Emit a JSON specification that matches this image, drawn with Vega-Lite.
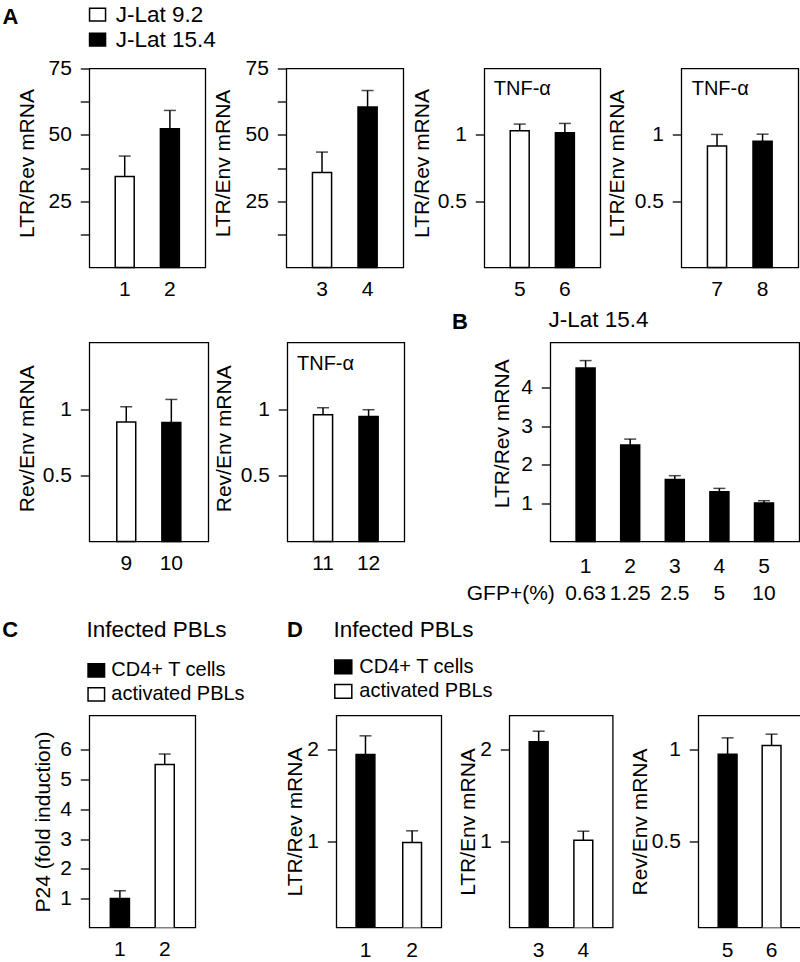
{
  "$schema": "https://vega.github.io/schema/vega-lite/v6.json",
  "padding": {"left": 2.3, "top": 2.5, "right": 0, "bottom": 0},
  "config": {
    "font": "Liberation Sans",
    "view": {"stroke": "black", "strokeWidth": 1.3},
    "title": {"color": "black", "fontWeight": "normal"},
    "legend": {"labelColor": "black"},
    "axisX": {"domain": false, "grid": false, "ticks": false, "tickSize": 0, "labelAngle": 0, "labelFontSize": 21, "labelColor": "black", "labelPadding": 27.6, "labelBaseline": "alphabetic"},
    "axisY": {"domain": false, "grid": false, "ticks": true, "tickSize": 9, "tickWidth": 1.3, "tickColor": "black", "tickCount": 12, "labelFontSize": 21, "labelColor": "black", "labelPadding": 9, "format": "~g", "labelOverlap": false, "titleFontSize": 21, "titleFontWeight": "normal", "titleColor": "black", "titleBaseline": "alphabetic"}
  },
  "spacing": 0,
  "resolve": {"scale": {"fill": "independent"}, "legend": {"fill": "independent"}},
  "vconcat": [
    {
      "bounds": "flush",
      "spacing": 0,
      "resolve": {"scale": {"fill": "independent"}, "legend": {"fill": "independent"}},
      "hconcat": [
        {"width": 87, "height": 199, "data": {"values": []}, "mark": "point", "view": {"stroke": null},
         "title": {"text": "A", "anchor": "start", "frame": "group", "fontSize": 22, "fontWeight": "bold", "baseline": "alphabetic", "dx": 0.2, "offset": 23}},
        {
          "width": 116, "height": 199,
          "data": {"values": [
            {"lane": "1", "group": "J-Lat 9.2", "value": 34.3, "upper": 42.0},
            {"lane": "2", "group": "J-Lat 15.4", "value": 52.3, "upper": 59.2}
          ]},
          "encoding": {"x": {"field": "lane", "type": "nominal", "sort": null, "title": null, "scale": {"paddingInner": 0.58, "paddingOuter": 0.574}}},
          "layer": [
            {"mark": {"type": "bar", "stroke": "black", "strokeWidth": 1.5},
             "encoding": {
               "y": {"field": "value", "type": "quantitative", "scale": {"domain": [0, 75], "nice": false}, "axis": {"title": "LTR/Rev mRNA", "titleX": -56, "titleY": 94.5, "format": "d", "tickCount": 12, "values": [12.5, 25, 37.5, 50, 62.5, 75], "labelOpacity": {"condition": {"test": "datum.value % 25 != 0", "value": 0}, "value": 1}}},
               "fill": {"field": "group", "type": "nominal", "scale": {"domain": ["J-Lat 9.2", "J-Lat 15.4"], "range": ["white", "black"]},
                 "legend": {"orient": "none", "legendX": -3, "legendY": -65.1, "title": null, "padding": 0, "symbolType": "M-1,-0.8H1V0.8H-1Z", "symbolSize": 256, "symbolStrokeColor": "black", "symbolStrokeWidth": 1.5, "labelFontSize": 22.5, "labelOffset": 7, "rowPadding": 2}}
             }},
            {"mark": {"type": "rule", "color": "black", "strokeWidth": 1.5}, "encoding": {"y": {"field": "value", "type": "quantitative"}, "y2": {"field": "upper"}}},
            {"mark": {"type": "tick", "color": "black", "size": 12, "thickness": 1.5}, "encoding": {"y": {"field": "upper", "type": "quantitative"}}}
          ]
        },
        {"width": 81, "height": 199, "data": {"values": []}, "mark": "point", "view": {"stroke": null}},
        {
          "width": 117, "height": 199,
          "data": {"values": [
            {"lane": "3", "group": "J-Lat 9.2", "value": 35.8, "upper": 43.5},
            {"lane": "4", "group": "J-Lat 15.4", "value": 60.5, "upper": 66.7}
          ]},
          "encoding": {"x": {"field": "lane", "type": "nominal", "sort": null, "title": null, "scale": {"paddingInner": 0.58, "paddingOuter": 0.574}}},
          "layer": [
            {"mark": {"type": "bar", "stroke": "black", "strokeWidth": 1.5},
             "encoding": {
               "y": {"field": "value", "type": "quantitative", "scale": {"domain": [0, 75], "nice": false}, "axis": {"title": "LTR/Env mRNA", "titleX": -56.5, "titleY": 94.5, "format": "d", "tickCount": 12, "values": [12.5, 25, 37.5, 50, 62.5, 75], "labelOpacity": {"condition": {"test": "datum.value % 25 != 0", "value": 0}, "value": 1}}},
               "fill": {"field": "group", "type": "nominal", "scale": {"domain": ["J-Lat 9.2", "J-Lat 15.4"], "range": ["white", "black"]}, "legend": null}
             }},
            {"mark": {"type": "rule", "color": "black", "strokeWidth": 1.5}, "encoding": {"y": {"field": "value", "type": "quantitative"}, "y2": {"field": "upper"}}},
            {"mark": {"type": "tick", "color": "black", "size": 12, "thickness": 1.5}, "encoding": {"y": {"field": "upper", "type": "quantitative"}}}
          ]
        },
        {"width": 81, "height": 199, "data": {"values": []}, "mark": "point", "view": {"stroke": null}},
        {
          "width": 116, "height": 199,
          "title": {"text": "TNF-α", "anchor": "start", "frame": "group", "fontSize": 20, "baseline": "alphabetic", "dx": 9.5, "offset": -46.7},
          "data": {"values": [
            {"lane": "5", "group": "J-Lat 9.2", "value": 1.031, "upper": 1.081},
            {"lane": "6", "group": "J-Lat 15.4", "value": 1.016, "upper": 1.086}
          ]},
          "encoding": {"x": {"field": "lane", "type": "nominal", "sort": null, "title": null, "scale": {"paddingInner": 0.58, "paddingOuter": 0.574}}},
          "layer": [
            {"mark": {"type": "bar", "stroke": "black", "strokeWidth": 1.5},
             "encoding": {
               "y": {"field": "value", "type": "quantitative", "scale": {"domain": [0, 1.5], "nice": false}, "axis": {"title": "LTR/Rev mRNA", "titleX": -55.8, "titleY": 94.5, "values": [0.5, 1]}},
               "fill": {"field": "group", "type": "nominal", "scale": {"domain": ["J-Lat 9.2", "J-Lat 15.4"], "range": ["white", "black"]}, "legend": null}
             }},
            {"mark": {"type": "rule", "color": "black", "strokeWidth": 1.5}, "encoding": {"y": {"field": "value", "type": "quantitative"}, "y2": {"field": "upper"}}},
            {"mark": {"type": "tick", "color": "black", "size": 12, "thickness": 1.5}, "encoding": {"y": {"field": "upper", "type": "quantitative"}}}
          ]
        },
        {"width": 81, "height": 199, "data": {"values": []}, "mark": "point", "view": {"stroke": null}},
        {
          "width": 117, "height": 199,
          "title": {"text": "TNF-α", "anchor": "start", "frame": "group", "fontSize": 20, "baseline": "alphabetic", "dx": 10.4, "offset": -46.7},
          "data": {"values": [
            {"lane": "7", "group": "J-Lat 9.2", "value": 0.915, "upper": 1.003},
            {"lane": "8", "group": "J-Lat 15.4", "value": 0.952, "upper": 1.005}
          ]},
          "encoding": {"x": {"field": "lane", "type": "nominal", "sort": null, "title": null, "scale": {"paddingInner": 0.58, "paddingOuter": 0.574}}},
          "layer": [
            {"mark": {"type": "bar", "stroke": "black", "strokeWidth": 1.5},
             "encoding": {
               "y": {"field": "value", "type": "quantitative", "scale": {"domain": [0, 1.5], "nice": false}, "axis": {"title": "LTR/Env mRNA", "titleX": -58, "titleY": 94.5, "values": [0.5, 1]}},
               "fill": {"field": "group", "type": "nominal", "scale": {"domain": ["J-Lat 9.2", "J-Lat 15.4"], "range": ["white", "black"]}, "legend": null}
             }},
            {"mark": {"type": "rule", "color": "black", "strokeWidth": 1.5}, "encoding": {"y": {"field": "value", "type": "quantitative"}, "y2": {"field": "upper"}}},
            {"mark": {"type": "tick", "color": "black", "size": 12, "thickness": 1.5}, "encoding": {"y": {"field": "upper", "type": "quantitative"}}}
          ]
        }
      ]
    },
    {"width": 1, "height": 7.4, "data": {"values": []}, "mark": "point", "view": {"stroke": null}},
    {
      "bounds": "flush",
      "spacing": 0,
      "resolve": {"scale": {"fill": "independent"}, "legend": {"fill": "independent"}},
      "hconcat": [
        {"width": 87, "height": 199, "data": {"values": []}, "mark": "point", "view": {"stroke": null}},
        {
          "width": 119, "height": 199,
          "data": {"values": [
            {"lane": "9", "group": "J-Lat 9.2", "value": 0.906, "upper": 1.023},
            {"lane": "10", "group": "J-Lat 15.4", "value": 0.903, "upper": 1.078}
          ]},
          "encoding": {"x": {"field": "lane", "type": "nominal", "sort": null, "title": null, "scale": {"paddingInner": 0.58, "paddingOuter": 0.61}, "axis": {"labelPadding": 28.5}}},
          "layer": [
            {"mark": {"type": "bar", "stroke": "black", "strokeWidth": 1.5},
             "encoding": {
               "y": {"field": "value", "type": "quantitative", "scale": {"domain": [0, 1.51], "nice": false}, "axis": {"title": "Rev/Env mRNA", "titleX": -56, "titleY": 95.8, "values": [0.5, 1]}},
               "fill": {"field": "group", "type": "nominal", "scale": {"domain": ["J-Lat 9.2", "J-Lat 15.4"], "range": ["white", "black"]}, "legend": null}
             }},
            {"mark": {"type": "rule", "color": "black", "strokeWidth": 1.5}, "encoding": {"y": {"field": "value", "type": "quantitative"}, "y2": {"field": "upper"}}},
            {"mark": {"type": "tick", "color": "black", "size": 12, "thickness": 1.5}, "encoding": {"y": {"field": "upper", "type": "quantitative"}}}
          ]
        },
        {"width": 78.4, "height": 199, "data": {"values": []}, "mark": "point", "view": {"stroke": null}},
        {
          "width": 117, "height": 199,
          "title": {"text": "TNF-α", "anchor": "start", "frame": "group", "fontSize": 20, "baseline": "alphabetic", "dx": 9.7, "offset": -47.6},
          "data": {"values": [
            {"lane": "11", "group": "J-Lat 9.2", "value": 0.962, "upper": 1.015},
            {"lane": "12", "group": "J-Lat 15.4", "value": 0.949, "upper": 1.0}
          ]},
          "encoding": {"x": {"field": "lane", "type": "nominal", "sort": null, "title": null, "scale": {"paddingInner": 0.58, "paddingOuter": 0.574}, "axis": {"labelPadding": 28.5}}},
          "layer": [
            {"mark": {"type": "bar", "stroke": "black", "strokeWidth": 1.5},
             "encoding": {
               "y": {"field": "value", "type": "quantitative", "scale": {"domain": [0, 1.51], "nice": false}, "axis": {"title": "Rev/Env mRNA", "titleX": -56.8, "titleY": 95.8, "values": [0.5, 1]}},
               "fill": {"field": "group", "type": "nominal", "scale": {"domain": ["J-Lat 9.2", "J-Lat 15.4"], "range": ["white", "black"]}, "legend": null}
             }},
            {"mark": {"type": "rule", "color": "black", "strokeWidth": 1.5}, "encoding": {"y": {"field": "value", "type": "quantitative"}, "y2": {"field": "upper"}}},
            {"mark": {"type": "tick", "color": "black", "size": 12, "thickness": 1.5}, "encoding": {"y": {"field": "upper", "type": "quantitative"}}}
          ]
        },
        {"width": 146, "height": 199, "data": {"values": []}, "mark": "point", "view": {"stroke": null},
         "title": {"text": "B", "anchor": "start", "frame": "group", "fontSize": 22, "fontWeight": "bold", "baseline": "alphabetic", "dx": 47.7, "offset": -8.3}},
        {
          "width": 249, "height": 199,
          "title": {"text": "J-Lat 15.4", "anchor": "start", "frame": "group", "fontSize": 22.5, "baseline": "alphabetic", "dx": -1.9, "offset": -7.2},
          "data": {"values": [
            {"lane": "1|0.63", "value": 4.51, "upper": 4.70},
            {"lane": "2|1.25", "value": 2.51, "upper": 2.66},
            {"lane": "3|2.5", "value": 1.61, "upper": 1.71},
            {"lane": "4|5", "value": 1.29, "upper": 1.38},
            {"lane": "5|10", "value": 1.0, "upper": 1.06}
          ]},
          "encoding": {"x": {"field": "lane", "type": "nominal", "sort": null, "scale": {"paddingInner": 0.574, "paddingOuter": 0.578},
            "axis": {"labelExpr": "split(datum.label, '|')", "labelLineHeight": 27, "labelPadding": 30.6, "title": "GFP+(%)", "titleFontSize": 21, "titleFontWeight": "normal", "titleColor": "black", "titleAngle": 0, "titleAnchor": "start", "titleAlign": "right", "titleBaseline": "alphabetic", "titleX": 4, "titleY": 57.6}}},
          "layer": [
            {"mark": {"type": "bar", "fill": "black", "stroke": "black", "strokeWidth": 1.5},
             "encoding": {
               "y": {"field": "value", "type": "quantitative", "scale": {"domain": [0, 5.17], "nice": false}, "axis": {"title": "LTR/Rev mRNA", "titleX": -41.5, "titleY": 90.8, "values": [1, 2, 3, 4]}}
             }},
            {"mark": {"type": "rule", "color": "black", "strokeWidth": 1.5}, "encoding": {"y": {"field": "value", "type": "quantitative"}, "y2": {"field": "upper"}}},
            {"mark": {"type": "tick", "color": "black", "size": 12, "thickness": 1.5}, "encoding": {"y": {"field": "upper", "type": "quantitative"}}}
          ]
        }
      ]
    },
    {"width": 1, "height": 14, "data": {"values": []}, "mark": "point", "view": {"stroke": null}},
    {
      "bounds": "flush",
      "spacing": 0,
      "resolve": {"scale": {"fill": "independent"}, "legend": {"fill": "independent"}},
      "hconcat": [
        {"width": 87, "height": 212, "data": {"values": []}, "mark": "point", "view": {"stroke": null},
         "title": {"text": "C", "anchor": "start", "frame": "group", "fontSize": 22, "fontWeight": "bold", "baseline": "alphabetic", "dx": 0, "offset": 56.9}},
        {
          "width": 106, "height": 212,
          "data": {"values": [
            {"lane": "1", "group": "CD4+ T cells", "value": 1.015, "upper": 1.27},
            {"lane": "2", "group": "activated PBLs", "value": 5.5, "upper": 5.85}
          ]},
          "encoding": {"x": {"field": "lane", "type": "nominal", "sort": null, "title": null, "scale": {"paddingInner": 0.574, "paddingOuter": 0.469}, "axis": {"labelPadding": 27.7}}},
          "layer": [
            {"mark": {"type": "bar", "stroke": "black", "strokeWidth": 1.5, "clip": true},
             "encoding": {
               "y": {"field": "value", "type": "quantitative", "scale": {"domain": [0.04, 7.14], "nice": false, "zero": false}, "axis": {"title": "P24 (fold induction)", "titleX": -39.5, "values": [1, 2, 3, 4, 5, 6]}},
               "fill": {"field": "group", "type": "nominal", "scale": {"domain": ["CD4+ T cells", "activated PBLs"], "range": ["black", "white"]},
                 "legend": {"orient": "none", "legendX": -3, "legendY": -55.1, "title": null, "padding": 0, "symbolType": "M-1,-0.8H1V0.8H-1Z", "symbolSize": 272, "symbolStrokeColor": "black", "symbolStrokeWidth": 1.5, "labelFontSize": 20, "labelOffset": 5, "rowPadding": 3.9}}
             }},
            {"mark": {"type": "rule", "color": "black", "strokeWidth": 1.5}, "encoding": {"y": {"field": "value", "type": "quantitative"}, "y2": {"field": "upper"}}},
            {"mark": {"type": "tick", "color": "black", "size": 12, "thickness": 1.5}, "encoding": {"y": {"field": "upper", "type": "quantitative"}}}
          ]
        },
        {"width": 140.7, "height": 212, "data": {"values": []}, "mark": "point", "view": {"stroke": null},
         "title": {"text": "Infected PBLs", "anchor": "start", "frame": "group", "fontSize": 22.5, "baseline": "alphabetic", "dx": -108.7, "offset": 56.4}},
        {
          "width": 105, "height": 212,
          "data": {"values": [
            {"lane": "1", "group": "CD4+ T cells", "value": 1.946, "upper": 2.148},
            {"lane": "2", "group": "activated PBLs", "value": 0.994, "upper": 1.12}
          ]},
          "encoding": {"x": {"field": "lane", "type": "nominal", "sort": null, "title": null, "scale": {"paddingInner": 0.597, "paddingOuter": 0.424}, "axis": {"labelPadding": 29.4}}},
          "layer": [
            {"mark": {"type": "bar", "stroke": "black", "strokeWidth": 1.5, "clip": true},
             "encoding": {
               "y": {"field": "value", "type": "quantitative", "scale": {"domain": [0.074, 2.368], "nice": false, "zero": false}, "axis": {"title": "LTR/Rev mRNA", "titleX": -34.5, "values": [1, 2]}},
               "fill": {"field": "group", "type": "nominal", "scale": {"domain": ["CD4+ T cells", "activated PBLs"], "range": ["black", "white"]},
                 "legend": {"orient": "none", "legendX": -3, "legendY": -58.6, "title": null, "padding": 0, "symbolType": "M-1,-0.8H1V0.8H-1Z", "symbolSize": 289, "symbolStrokeColor": "black", "symbolStrokeWidth": 1.5, "labelFontSize": 20, "labelOffset": 6, "rowPadding": 4.5}}
             }},
            {"mark": {"type": "rule", "color": "black", "strokeWidth": 1.5}, "encoding": {"y": {"field": "value", "type": "quantitative"}, "y2": {"field": "upper"}}},
            {"mark": {"type": "tick", "color": "black", "size": 12, "thickness": 1.5}, "encoding": {"y": {"field": "upper", "type": "quantitative"}}}
          ]
        },
        {"width": 67.3, "height": 212, "data": {"values": []}, "mark": "point", "view": {"stroke": null},
         "title": {"text": "Infected PBLs", "anchor": "start", "frame": "group", "fontSize": 22.5, "baseline": "alphabetic", "dx": -107.7, "offset": 56.4}},
        {
          "width": 103.4, "height": 212,
          "data": {"values": [
            {"lane": "3", "group": "CD4+ T cells", "value": 2.083, "upper": 2.198},
            {"lane": "4", "group": "activated PBLs", "value": 1.019, "upper": 1.116}
          ]},
          "encoding": {"x": {"field": "lane", "type": "nominal", "sort": null, "title": null, "scale": {"paddingInner": 0.577, "paddingOuter": 0.446}, "axis": {"labelPadding": 29.4}}},
          "layer": [
            {"mark": {"type": "bar", "stroke": "black", "strokeWidth": 1.5, "clip": true},
             "encoding": {
               "y": {"field": "value", "type": "quantitative", "scale": {"domain": [0.074, 2.368], "nice": false, "zero": false}, "axis": {"title": "LTR/Env mRNA", "titleX": -35.1, "values": [1, 2]}},
               "fill": {"field": "group", "type": "nominal", "scale": {"domain": ["CD4+ T cells", "activated PBLs"], "range": ["black", "white"]}, "legend": null}
             }},
            {"mark": {"type": "rule", "color": "black", "strokeWidth": 1.5}, "encoding": {"y": {"field": "value", "type": "quantitative"}, "y2": {"field": "upper"}}},
            {"mark": {"type": "tick", "color": "black", "size": 12, "thickness": 1.5}, "encoding": {"y": {"field": "upper", "type": "quantitative"}}}
          ]
        },
        {"width": 85, "height": 212, "data": {"values": []}, "mark": "point", "view": {"stroke": null},
         "title": {"text": "D", "anchor": "start", "frame": "group", "fontSize": 22, "fontWeight": "bold", "baseline": "alphabetic", "dx": -326.3, "offset": 56.9}},
        {
          "width": 102.6, "height": 212,
          "data": {"values": [
            {"lane": "5", "group": "CD4+ T cells", "value": 0.975, "upper": 1.063},
            {"lane": "6", "group": "activated PBLs", "value": 1.022, "upper": 1.083}
          ]},
          "encoding": {"x": {"field": "lane", "type": "nominal", "sort": null, "title": null, "scale": {"paddingInner": 0.572, "paddingOuter": 0.453}, "axis": {"labelPadding": 29.4}}},
          "layer": [
            {"mark": {"type": "bar", "stroke": "black", "strokeWidth": 1.5, "clip": true},
             "encoding": {
               "y": {"field": "value", "type": "quantitative", "scale": {"domain": [0.037, 1.184], "nice": false, "zero": false}, "axis": {"title": "Rev/Env mRNA", "titleX": -51.9, "values": [0.5, 1]}},
               "fill": {"field": "group", "type": "nominal", "scale": {"domain": ["CD4+ T cells", "activated PBLs"], "range": ["black", "white"]}, "legend": null}
             }},
            {"mark": {"type": "rule", "color": "black", "strokeWidth": 1.5}, "encoding": {"y": {"field": "value", "type": "quantitative"}, "y2": {"field": "upper"}}},
            {"mark": {"type": "tick", "color": "black", "size": 12, "thickness": 1.5}, "encoding": {"y": {"field": "upper", "type": "quantitative"}}}
          ]
        }
      ]
    }
  ]
}
